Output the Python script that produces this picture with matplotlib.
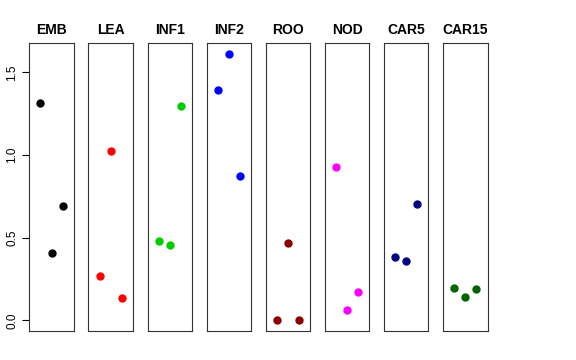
import matplotlib
matplotlib.use("Agg")
import matplotlib.pyplot as plt

plt.rcParams['font.family'] = ['Liberation Sans', 'DejaVu Sans']

categories = ["EMB", "LEA", "INF1", "INF2", "ROO", "NOD", "CAR5", "CAR15"]
colors = ["#000000", "#FF0000", "#00CD00", "#0000FF", "#8B0000", "#FF00FF", "#000080", "#006400"]
values = {
    "EMB":   [1.317, 0.405, 0.689],
    "LEA":   [0.268, 1.023, 0.137],
    "INF1":  [0.481, 0.453, 1.297],
    "INF2":  [1.396, 1.611, 0.874],
    "ROO":   [0.0, 0.469, 0.0],
    "NOD":   [0.930, 0.062, 0.173],
    "CAR5":  [0.382, 0.356, 0.701],
    "CAR15": [0.193, 0.141, 0.187],
}
replicates = [1, 2, 3]
yticks = [0.0, 0.5, 1.0, 1.5]

W, H = 576, 360
fig = plt.figure(figsize=(W / 100, H / 100), dpi=100)

left0 = 29.3
step = 59.1
pw = 44.5
top = 43.3
bottom = 331.0

ymax = max(max(v) for v in values.values())
pad = 0.04 * ymax

for i, (cat, col) in enumerate(zip(categories, colors)):
    x0 = left0 + i * step
    ax = fig.add_axes([x0 / W, 1 - bottom / H, pw / W, (bottom - top) / H])
    ax.plot(replicates, values[cat], 'o', color=col, ms=5, mec=col)
    ax.set_xlim(0, 4)
    ax.set_ylim(-pad, ymax + pad)
    ax.set_xticks([])
    ax.set_title(cat, fontsize=10, fontweight='bold', pad=7)
    for s in ax.spines.values():
        s.set_linewidth(0.8)
        s.set_color('#333333')
    if i == 0:
        ax.set_yticks(yticks)
        ax.set_yticklabels([f"{t:.1f}" for t in yticks], rotation=90, va='center', fontsize=8.5)
        ax.tick_params(axis='y', length=5, width=0.8, pad=3)
        ax.spines['left'].set_visible(False)
        ax.plot([0, 0], [-pad, ymax + pad], color='#333333', lw=0.8, clip_on=False)
    else:
        ax.set_yticks([])

fig.savefig("out.png", dpi=100)
